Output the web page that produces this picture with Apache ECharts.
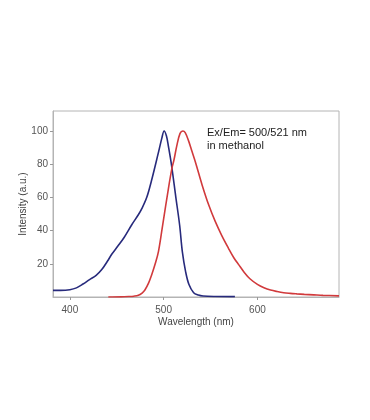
<!DOCTYPE html>
<html>
<head>
<meta charset="utf-8">
<script src="https://cdn.jsdelivr.net/npm/echarts@6/dist/echarts.min.js"></script>
<style>
html,body{margin:0;padding:0;background:#fff;}
#chart{width:370px;height:420px;}
</style>
</head>
<body>
<div id="chart"></div>
<script>
// Excitation spectrum (blue)
const exWavelength = [382, 390, 400, 407, 414, 421, 428, 434, 440, 445, 451, 458, 466, 473, 477, 482, 487, 494, 498, 500.5, 503, 505, 508.5, 513, 517, 520, 523.5, 527, 532, 537, 542, 555, 576];
const exIntensity  = [4.0, 4.0, 4.4, 5.5, 7.8, 10.5, 13, 16.5, 21.5, 26, 30.5, 36, 43.5, 49.5, 53.5, 60, 70, 86, 95.5, 100, 97, 91, 79, 60, 43.5, 27, 15, 7.5, 2.6, 1.2, 0.6, 0.3, 0.2];
// Emission spectrum (red)
const emWavelength = [441, 455, 463, 468, 473, 477, 480, 484, 487, 491, 494.5, 499, 505, 509, 511, 514, 517.5, 520.5, 523, 526.6, 530, 534, 541, 548, 555, 562, 569, 575, 580, 586, 592, 600, 607, 614, 621, 628, 635, 642, 650, 660, 670, 687];
const emIntensity  = [0, 0.1, 0.3, 0.5, 1.0, 2.4, 4.2, 8.5, 13, 20, 27.5, 43.5, 65, 78, 82.5, 91, 98.5, 100, 99, 94, 88, 81, 67.5, 55.5, 45.5, 37, 29.5, 23.5, 19.5, 14.8, 11, 7.6, 5.6, 4.2, 3.3, 2.6, 2.2, 1.9, 1.6, 1.3, 1.0, 0.7];
// Axis ticks
const xTicks = [400, 500, 600];
const yTicks = [20, 40, 60, 80, 100];
const annotation = ['Ex/Em= 500/521 nm', 'in methanol'];

const FONT = "'Liberation Sans', Arial, sans-serif";

const chart = echarts.init(document.getElementById('chart'), null, {renderer: 'canvas'});
chart.setOption({
  backgroundColor: '#ffffff',
  animation: false,
  grid: {
    left: 53, top: 111, width: 286, height: 186,
    show: true, borderColor: '#b4b4b4', borderWidth: 1, backgroundColor: 'transparent'
  },
  xAxis: {
    type: 'value', min: 382, max: 687,
    name: 'Wavelength (nm)', nameLocation: 'middle', nameGap: 20, nameMoveOverlap: false,
    nameTextStyle: {color: '#444', fontSize: 10, fontFamily: FONT},
    axisLine: {show: true, lineStyle: {color: '#b4b4b4'}},
    axisTick: {show: true, length: 3, customValues: xTicks, lineStyle: {color: '#999'}},
    axisLabel: {customValues: xTicks, color: '#555', fontSize: 10, fontFamily: FONT, margin: 8},
    splitLine: {show: false}
  },
  yAxis: {
    type: 'value', min: 0, max: 112,
    name: 'Intensity (a.u.)', nameLocation: 'middle', nameGap: 25, nameRotate: 90, nameMoveOverlap: false,
    nameTextStyle: {color: '#444', fontSize: 10, fontFamily: FONT},
    axisLine: {show: true, lineStyle: {color: '#b4b4b4'}},
    axisTick: {show: true, length: 3, customValues: yTicks, lineStyle: {color: '#999'}},
    axisLabel: {customValues: yTicks, color: '#555', fontSize: 10, fontFamily: FONT, margin: 5},
    splitLine: {show: false}
  },
  graphic: [{
    type: 'text', left: 207, top: 126,
    style: {
      text: annotation.join('\n'), fill: '#222', fontSize: 11, lineHeight: 13,
      fontFamily: FONT
    }
  }],
  series: [{
    type: 'line', name: 'Excitation', showSymbol: false, smooth: 0.35,
    data: exWavelength.map((w, i) => [w, exIntensity[i]]),
    lineStyle: {color: '#272a7c', width: 1.6}, itemStyle: {color: '#272a7c'}
  }, {
    type: 'line', name: 'Emission', showSymbol: false, smooth: 0.35,
    data: emWavelength.map((w, i) => [w, emIntensity[i]]),
    lineStyle: {color: '#d13a3c', width: 1.6}, itemStyle: {color: '#d13a3c'}
  }]
});
</script>
</body>
</html>
